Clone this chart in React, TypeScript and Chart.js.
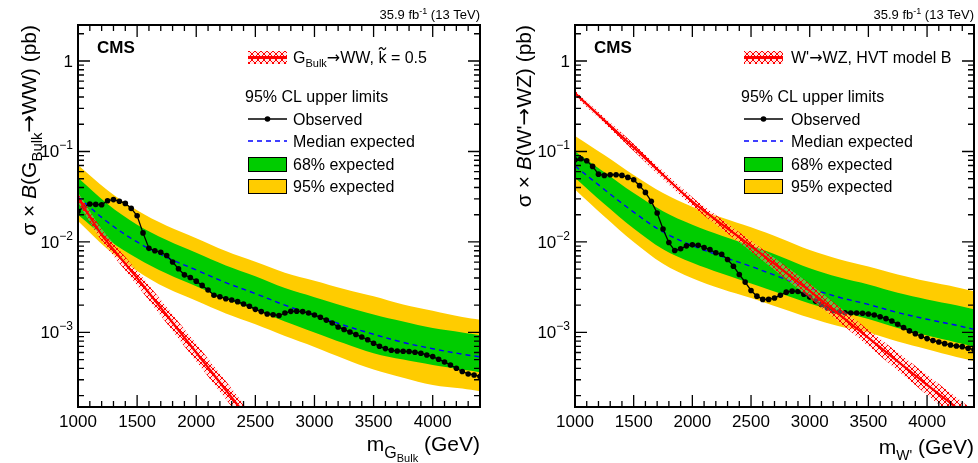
import React, { useEffect, useRef } from "react";
import { Chart, registerables } from "chart.js";
Chart.register(...registerables);

const FONT = '"Liberation Sans", Arial, Helvetica, sans-serif';
const ARROW_FONT = '"DejaVu Sans", sans-serif';

// ---------------- data ----------------
const OBS_MASS = [
  1000, 1050, 1100, 1150, 1200, 1250, 1300, 1350, 1400, 1450, 1500, 1550, 1600, 1650, 1700, 1750, 1800, 1850,
  1900, 1950, 2000, 2050, 2100, 2150, 2200, 2250, 2300, 2350, 2400, 2450, 2500, 2550, 2600, 2650, 2700, 2750,
  2800, 2850, 2900, 2950, 3000, 3050, 3100, 3150, 3200, 3250, 3300, 3350, 3400, 3450, 3500, 3550, 3600, 3650,
  3700, 3750, 3800, 3850, 3900, 3950, 4000, 4050, 4100, 4150, 4200, 4250, 4300, 4350, 4400,
];

const G_OBSERVED = [
  0.0218, 0.0244, 0.0263, 0.026, 0.0258, 0.0286, 0.0294, 0.0282, 0.0267, 0.0235, 0.0195, 0.0126, 0.0085, 0.008,
  0.0077, 0.0071, 0.006, 0.00505, 0.00433, 0.00405, 0.00369, 0.00331, 0.00294, 0.00258, 0.00248, 0.00236,
  0.00228, 0.00219, 0.00206, 0.00195, 0.0018, 0.0017, 0.0016, 0.00157, 0.00154, 0.00164, 0.00171, 0.00172,
  0.0017, 0.00164, 0.00156, 0.00147, 0.00137, 0.00127, 0.00115, 0.00108, 0.00101, 0.00095, 0.00089, 0.00083,
  0.00076, 0.000703, 0.000663, 0.000635, 0.000624, 0.000619, 0.000615, 0.000604, 0.000589, 0.000564, 0.000541,
  0.000505, 0.000472, 0.000437, 0.000402, 0.00037, 0.000348, 0.000339, 0.000326,
];

const W_OBSERVED = [
  0.081, 0.083, 0.0789, 0.0684, 0.0562, 0.0544, 0.0553, 0.0553, 0.0544, 0.0517, 0.0488, 0.0419, 0.0353, 0.0281,
  0.0209, 0.0139, 0.00985, 0.00804, 0.0084, 0.00906, 0.00929, 0.0092, 0.00867, 0.00824, 0.00759, 0.00731, 0.0064,
  0.0054, 0.00437, 0.0036, 0.00291, 0.00252, 0.00232, 0.00232, 0.0024, 0.00258, 0.00279, 0.00286, 0.00284,
  0.00265, 0.00246, 0.00222, 0.00204, 0.00186, 0.00174, 0.00168, 0.00165, 0.00164, 0.00164, 0.00163, 0.0016,
  0.00156, 0.00149, 0.00142, 0.00134, 0.00123, 0.00113, 0.00104, 0.00097, 0.000906, 0.000855, 0.000813, 0.000784,
  0.000752, 0.000726, 0.000708, 0.000697, 0.000668, 0.000646,
];

const BAND_MASS = [1000, 1250, 1500, 1750, 2000, 2250, 2500, 2750, 3000, 3250, 3500, 3750, 4000, 4250, 4400];

const G_MEDIAN = [0.0316, 0.0166, 0.01, 0.00676, 0.0049, 0.00355, 0.00269, 0.002, 0.00155, 0.0012, 0.000955, 0.000776, 0.000661, 0.000575, 0.000537];
const G_GREEN_UP = [0.0513, 0.0263, 0.0155, 0.0105, 0.00759, 0.0055, 0.00417, 0.00309, 0.00245, 0.00195, 0.00158, 0.00132, 0.00112, 0.001, 0.000933];
const G_GREEN_DN = [0.02, 0.0107, 0.00661, 0.00447, 0.00324, 0.00234, 0.00178, 0.00132, 0.001, 0.000759, 0.000589, 0.000501, 0.000437, 0.000389, 0.000363];
const G_YELLOW_UP = [0.0708, 0.0372, 0.0224, 0.0151, 0.011, 0.00794, 0.00603, 0.00457, 0.00372, 0.00302, 0.00251, 0.00204, 0.00174, 0.00148, 0.00138];
const G_YELLOW_DN = [0.017, 0.00832, 0.00479, 0.00309, 0.00224, 0.00162, 0.00123, 0.000912, 0.000692, 0.000513, 0.000389, 0.000316, 0.000263, 0.00024, 0.000224];

const W_MEDIAN = [0.0692, 0.038, 0.0214, 0.0129, 0.00912, 0.00692, 0.00537, 0.00407, 0.00309, 0.00245, 0.00204, 0.00166, 0.0014, 0.0012, 0.00108];
const W_GREEN_UP = [0.1, 0.0589, 0.0347, 0.0219, 0.0155, 0.0117, 0.00912, 0.00692, 0.00513, 0.00407, 0.00339, 0.00275, 0.00232, 0.002, 0.0018];
const W_GREEN_DN = [0.0513, 0.0263, 0.0141, 0.00832, 0.00589, 0.00447, 0.00347, 0.00269, 0.00209, 0.0017, 0.00141, 0.00112, 0.000923, 0.000776, 0.0007];
const W_YELLOW_UP = [0.148, 0.0912, 0.055, 0.0347, 0.0245, 0.0186, 0.0145, 0.011, 0.00813, 0.00646, 0.00537, 0.00437, 0.00367, 0.00316, 0.00285];
const W_YELLOW_DN = [0.038, 0.0191, 0.01, 0.00575, 0.00398, 0.00302, 0.0024, 0.00186, 0.00145, 0.00117, 0.001, 0.000794, 0.000653, 0.000537, 0.000484];

const G_THEORY_MASS = [1000, 1200, 1500, 2000, 2500];
const G_THEORY = [0.031, 0.012, 0.004, 0.0006, 0.000089];
const G_THEORY_UP = [0.0355, 0.014, 0.0048, 0.00075, 0.000112];
const G_THEORY_DN = [0.0271, 0.0103, 0.00333, 0.00048, 0.0000707];

const W_THEORY_MASS = [1000, 1500, 2000, 2500, 3000, 3500, 4000, 4500];
const W_THEORY = [0.44, 0.111, 0.0279, 0.009, 0.00288, 0.00087, 0.000263, 0.000083];
const W_THEORY_UP = [0.472, 0.1217, 0.0313, 0.01033, 0.00346, 0.00107, 0.000339, 0.000109];
const W_THEORY_DN = [0.41, 0.1013, 0.0249, 0.00784, 0.0024, 0.000707, 0.000204, 0.000063];

const X_TICK_LABELS = [1000, 1500, 2000, 2500, 3000, 3500, 4000];
const Y_DECADES = [1, 0.1, 0.01, 0.001];
const Y_DECADE_EXP = ["", "\u22121", "\u22122", "\u22123"];

const X_MIN = 1000;
const X_MAX = 4400;
const Y_MIN = 1.5e-4;
const Y_MAX = 2.5;

// ---------------- helpers ----------------
type Seg = { t: string; s: number; dy?: number; st?: string; tilde?: boolean; f?: string };

function fontOf(g: Seg) {
  return `${g.st ?? ""} ${g.s}px ${g.f ?? FONT}`;
}

function richWidth(ctx: CanvasRenderingContext2D, segs: Seg[]) {
  let w = 0;
  for (const g of segs) {
    ctx.font = fontOf(g);
    w += ctx.measureText(g.t).width;
  }
  return w;
}

function drawRich(ctx: CanvasRenderingContext2D, segs: Seg[], x: number, y: number, align: string) {
  const w = richWidth(ctx, segs);
  let cx = align === "right" ? x - w : align === "center" ? x - w / 2 : x;
  ctx.textAlign = "left";
  ctx.textBaseline = "alphabetic";
  for (const g of segs) {
    ctx.font = fontOf(g);
    const gy = y + (g.dy || 0);
    ctx.fillText(g.t, cx, gy);
    const gw = ctx.measureText(g.t).width;
    if (g.tilde) {
      const mx = cx + gw / 2;
      const ty = gy - g.s * 0.9;
      ctx.save();
      ctx.lineWidth = 1.2;
      ctx.strokeStyle = "#000";
      ctx.beginPath();
      ctx.moveTo(mx - 3.5, ty + 1);
      ctx.bezierCurveTo(mx - 2, ty - 2, mx - 0.5, ty - 1, mx, ty);
      ctx.bezierCurveTo(mx + 0.5, ty + 1, mx + 2, ty + 2, mx + 3.5, ty - 1);
      ctx.stroke();
      ctx.restore();
    }
    cx += gw;
  }
}

function pts(xs: number[], ys: number[]) {
  return xs.map((x, i) => ({ x, y: ys[i] }));
}

function makeHatch(ctx: CanvasRenderingContext2D) {
  const c = document.createElement("canvas");
  c.width = 6;
  c.height = 6;
  const g = c.getContext("2d")!;
  g.fillStyle = "rgba(255,190,190,0.35)";
  g.fillRect(0, 0, 6, 6);
  g.strokeStyle = "rgba(255,0,0,1)";
  g.lineWidth = 1;
  g.beginPath();
  g.moveTo(0, 0);
  g.lineTo(6, 6);
  g.moveTo(6, 0);
  g.lineTo(0, 6);
  g.stroke();
  return ctx.createPattern(c, "repeat")!;
}

const decorPlugin = {
  id: "decor",
  afterDraw(chart: any, _args: any, o: any) {
    const { ctx, chartArea: ca, scales } = chart;
    const xs = scales.x;
    const ys = scales.y;
    ctx.save();
    ctx.fillStyle = "#000";
    ctx.strokeStyle = "#000";

    // ticks on all four sides
    ctx.lineWidth = 1.3;
    ctx.beginPath();
    for (let m = X_MIN; m <= X_MAX; m += 100) {
      const px = xs.getPixelForValue(m);
      const len = m % 500 === 0 ? 12 : 6;
      ctx.moveTo(px, ca.bottom);
      ctx.lineTo(px, ca.bottom - len);
      ctx.moveTo(px, ca.top);
      ctx.lineTo(px, ca.top + len);
    }
    for (let d = -4; d <= 0; d++) {
      for (let k = 1; k <= 9; k++) {
        const v = k * Math.pow(10, d);
        if (v < Y_MIN || v > Y_MAX) continue;
        const py = ys.getPixelForValue(v);
        const len = k === 1 ? 12 : 6;
        ctx.moveTo(ca.left, py);
        ctx.lineTo(ca.left + len, py);
        ctx.moveTo(ca.right, py);
        ctx.lineTo(ca.right - len, py);
      }
    }
    ctx.stroke();

    // frame
    ctx.lineWidth = 2;
    ctx.strokeRect(ca.left, ca.top, ca.right - ca.left, ca.bottom - ca.top);

    // x tick labels
    ctx.font = `17px ${FONT}`;
    ctx.textAlign = "center";
    ctx.textBaseline = "alphabetic";
    for (const m of X_TICK_LABELS) {
      ctx.fillText(String(m), xs.getPixelForValue(m), ca.bottom + 20);
    }
    // y tick labels
    Y_DECADES.forEach((v, i) => {
      const py = ys.getPixelForValue(v);
      const segs: Seg[] = Y_DECADE_EXP[i] === "" ? [{ t: "1", s: 17 }] : [{ t: "10", s: 17 }, { t: Y_DECADE_EXP[i], s: 12, dy: -8 }];
      drawRich(ctx, segs, ca.left - 5, py + 6, "right");
    });

    // axis titles
    ctx.save();
    ctx.translate(o.yTitleX, ca.top);
    ctx.rotate(-Math.PI / 2);
    drawRich(ctx, o.yTitle, 0, 0, "right");
    ctx.restore();
    drawRich(ctx, o.xTitle, ca.right, o.xTitleY, "right");

    // lumi + CMS
    drawRich(ctx, [{ t: "35.9 fb", s: 13 }, { t: "-1", s: 9, dy: -5 }, { t: " (13 TeV)", s: 13 }], ca.right, 19, "right");
    ctx.font = `bold 17px ${FONT}`;
    ctx.textAlign = "left";
    ctx.fillText("CMS", ca.left + 19, 53);

    // legend
    const bx = o.legX;
    const bw = 39;
    const tx = o.legTextX;
    // theory row
    ctx.fillStyle = o.hatch;
    ctx.fillRect(bx, 51, bw, 13);
    ctx.strokeStyle = "#ff0000";
    ctx.lineWidth = 3;
    ctx.beginPath();
    ctx.moveTo(bx, 57.5);
    ctx.lineTo(bx + bw, 57.5);
    ctx.stroke();
    ctx.fillStyle = "#000";
    drawRich(ctx, o.theoryLabel, tx, 63, "left");
    // header
    drawRich(ctx, [{ t: "95% CL upper limits", s: 16 }], o.legHeadX, 102, "left");
    // observed
    ctx.strokeStyle = "#000";
    ctx.lineWidth = 1.3;
    ctx.beginPath();
    ctx.moveTo(bx, 119);
    ctx.lineTo(bx + bw, 119);
    ctx.stroke();
    ctx.beginPath();
    ctx.arc(bx + bw / 2, 119, 2.8, 0, Math.PI * 2);
    ctx.fill();
    drawRich(ctx, [{ t: "Observed", s: 16 }], tx, 124.5, "left");
    // median
    ctx.strokeStyle = "#0000ff";
    ctx.lineWidth = 1.4;
    ctx.setLineDash([5, 4]);
    ctx.beginPath();
    ctx.moveTo(bx, 141);
    ctx.lineTo(bx + bw, 141);
    ctx.stroke();
    ctx.setLineDash([]);
    drawRich(ctx, [{ t: "Median expected", s: 16 }], tx, 146.5, "left");
    // 68%
    ctx.fillStyle = "#00cc00";
    ctx.fillRect(bx, 157, bw, 15);
    ctx.strokeStyle = "#000";
    ctx.lineWidth = 1;
    ctx.strokeRect(bx + 0.5, 157.5, bw - 1, 14);
    ctx.fillStyle = "#000";
    drawRich(ctx, [{ t: "68% expected", s: 16 }], tx, 170, "left");
    // 95%
    ctx.fillStyle = "#ffcc00";
    ctx.fillRect(bx, 179, bw, 15);
    ctx.strokeRect(bx + 0.5, 179.5, bw - 1, 14);
    ctx.fillStyle = "#000";
    drawRich(ctx, [{ t: "95% expected", s: 16 }], tx, 192, "left");

    ctx.restore();
  },
};

function buildChart(canvas: HTMLCanvasElement, p: any) {
  const ctx = canvas.getContext("2d")!;
  const hatch = makeHatch(ctx);
  const line = (extra: any) => ({ pointRadius: 0, borderWidth: 0, tension: 0.35, ...extra });
  return new Chart(canvas, {
    type: "line",
    data: {
      datasets: [
        line({ data: pts(BAND_MASS, p.yUp), fill: "+1", backgroundColor: "#ffcc00", borderColor: "rgba(0,0,0,0)", order: 10 }),
        line({ data: pts(BAND_MASS, p.yDn), fill: false, borderColor: "rgba(0,0,0,0)", order: 10 }),
        line({ data: pts(BAND_MASS, p.gUp), fill: "+1", backgroundColor: "#00cc00", borderColor: "rgba(0,0,0,0)", order: 9 }),
        line({ data: pts(BAND_MASS, p.gDn), fill: false, borderColor: "rgba(0,0,0,0)", order: 9 }),
        line({ data: pts(BAND_MASS, p.median), fill: false, borderColor: "#0000ff", borderWidth: 1.4, borderDash: [5, 4], order: 8 }),
        {
          data: pts(OBS_MASS, p.obs),
          fill: false,
          borderColor: "#000",
          borderWidth: 1.3,
          pointRadius: 2.8,
          pointBackgroundColor: "#000",
          pointBorderColor: "#000",
          pointBorderWidth: 0,
          tension: 0,
          order: 7,
        },
        line({ data: pts(p.thMass, p.thUp), fill: "+1", backgroundColor: hatch, borderColor: "rgba(0,0,0,0)", tension: 0.2, order: 6 }),
        line({ data: pts(p.thMass, p.thDn), fill: false, borderColor: "rgba(0,0,0,0)", tension: 0.2, order: 6 }),
        line({ data: pts(p.thMass, p.th), fill: false, borderColor: "#ff0000", borderWidth: 2.2, tension: 0.2, order: 5 }),
      ],
    },
    options: {
      responsive: false,
      animation: false,
      devicePixelRatio: 1,
      layout: { padding: { left: 0, right: p.padR, top: 25, bottom: 0 } },
      plugins: {
        legend: { display: false },
        tooltip: { enabled: false },
        decor: { ...p.decor, hatch },
      } as any,
      scales: {
        x: {
          type: "linear",
          min: X_MIN,
          max: X_MAX,
          grid: { display: false },
          border: { display: false },
          ticks: { display: false },
          afterFit: (s: any) => {
            s.height = 56;
          },
        },
        y: {
          type: "logarithmic",
          min: Y_MIN,
          max: Y_MAX,
          grid: { display: false },
          border: { display: false },
          ticks: { display: false },
          afterFit: (s: any) => {
            s.width = p.leftW;
          },
        },
      },
    } as any,
    plugins: [decorPlugin as any],
  });
}

const LEFT_PANEL = {
  leftW: 78,
  padR: 9,
  obs: G_OBSERVED,
  median: G_MEDIAN,
  gUp: G_GREEN_UP,
  gDn: G_GREEN_DN,
  yUp: G_YELLOW_UP,
  yDn: G_YELLOW_DN,
  thMass: G_THEORY_MASS,
  th: G_THEORY,
  thUp: G_THEORY_UP,
  thDn: G_THEORY_DN,
  decor: {
    yTitleX: 36,
    yTitle: [
      { t: "\u03c3 \u00d7 ", s: 21 },
      { t: "B", s: 21, st: "italic" },
      { t: "(G", s: 21 },
      { t: "Bulk", s: 15, dy: 6 },
      { t: "\u2192", s: 21, f: ARROW_FONT },
      { t: "WW) (pb)", s: 21 },
    ],
    xTitleY: 451,
    xTitle: [
      { t: "m", s: 21 },
      { t: "G", s: 16, dy: 7 },
      { t: "Bulk", s: 11, dy: 11 },
      { t: " (GeV)", s: 21 },
    ],
    theoryLabel: [
      { t: "G", s: 16 },
      { t: "Bulk", s: 11, dy: 4 },
      { t: "\u2192", s: 16, f: ARROW_FONT },
      { t: "WW, ", s: 16 },
      { t: "k", s: 16, tilde: true },
      { t: " = 0.5", s: 16 },
    ],
    legX: 248,
    legTextX: 293,
    legHeadX: 245,
  },
};

const RIGHT_PANEL = {
  leftW: 86,
  padR: 2,
  obs: W_OBSERVED,
  median: W_MEDIAN,
  gUp: W_GREEN_UP,
  gDn: W_GREEN_DN,
  yUp: W_YELLOW_UP,
  yDn: W_YELLOW_DN,
  thMass: W_THEORY_MASS,
  th: W_THEORY,
  thUp: W_THEORY_UP,
  thDn: W_THEORY_DN,
  decor: {
    yTitleX: 42,
    yTitle: [
      { t: "\u03c3 \u00d7 ", s: 21 },
      { t: "B", s: 21, st: "italic" },
      { t: "(W'", s: 21 },
      { t: "\u2192", s: 21, f: ARROW_FONT },
      { t: "WZ) (pb)", s: 21 },
    ],
    xTitleY: 454,
    xTitle: [
      { t: "m", s: 21 },
      { t: "W'", s: 14, dy: 6 },
      { t: " (GeV)", s: 21 },
    ],
    theoryLabel: [
      { t: "W'", s: 16 },
      { t: "\u2192", s: 16, f: ARROW_FONT },
      { t: "WZ, HVT model B", s: 16 },
    ],
    legX: 255,
    legTextX: 302,
    legHeadX: 252,
  },
};

export default function App() {
  const leftRef = useRef<HTMLCanvasElement>(null);
  const rightRef = useRef<HTMLCanvasElement>(null);
  useEffect(() => {
    const c1 = buildChart(leftRef.current!, LEFT_PANEL);
    const c2 = buildChart(rightRef.current!, RIGHT_PANEL);
    return () => {
      c1.destroy();
      c2.destroy();
    };
  }, []);
  const cs: React.CSSProperties = { position: "absolute", top: 0, width: 489, height: 463, display: "block" };
  return (
    <div style={{ position: "fixed", left: 0, top: 0, width: 978, height: 463, background: "#fff", overflow: "hidden" }}>
      <canvas ref={leftRef} width={489} height={463} style={{ ...cs, left: 0 }} />
      <canvas ref={rightRef} width={489} height={463} style={{ ...cs, left: 489 }} />
    </div>
  );
}
